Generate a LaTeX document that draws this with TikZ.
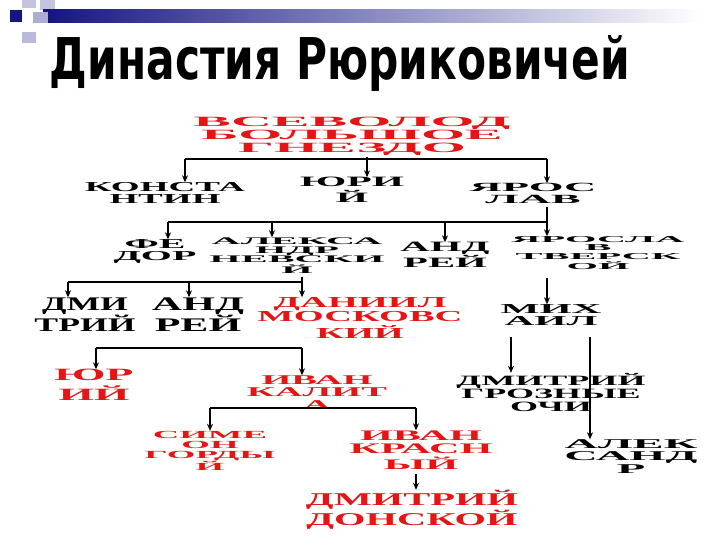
\documentclass[tikz,border=0pt]{standalone}
\usepackage{fontspec}
\setmainfont{Liberation Serif}
\newfontfamily\ttlfont{DejaVu Sans}
\usetikzlibrary{arrows.meta}
\definecolor{rred}{RGB}{230,20,20}
\definecolor{bbar}{RGB}{20,20,130}
\renewcommand{\arraystretch}{0.72}
\newcommand{\nd}[7]{\node[inner sep=0pt,text=#6] (#1) at (#2,#3)
  {\resizebox*{#4pt}{#5pt}{\bfseries\begin{tabular}{@{}c@{}}#7\end{tabular}}};}
\tikzset{arr/.style={draw=black,line width=1.2pt,-{Stealth[length=7pt,width=6pt]}},
  ln/.style={draw=black,line width=1.2pt}}
\begin{document}
\begin{tikzpicture}[x=1pt,y=-1pt]
\useasboundingbox (0,0) rectangle (720,540);
\fill[white] (0,0) rectangle (720,540);
% decoration
\fill[bbar!25] (40,0) rectangle (55,10);
\fill[bbar!25] (22,0) rectangle (36,8);
\fill[bbar!30] (22,32) rectangle (36,43);
\shade[left color=bbar,right color=white] (43,10) rectangle (700,23);
\fill[bbar!35] (33,12) rectangle (48,23);
\fill[bbar] (10,10) rectangle (22,22);
% title
\node[inner sep=0pt] (title) at (340,63) {\resizebox{580pt}{44pt}{\ttlfont\bfseries Династия Рюриковичей}};
% nodes
\nd{vs}{352}{137}{317}{39}{rred}{ВСЕВОЛОД\\БОЛЬШОЕ\\ГНЕЗДО}
\nd{kon}{165}{195}{160}{25}{black}{КОНСТА\\НТИН}
\nd{yur}{352}{192}{104}{29}{black}{ЮРИ\\Й}
\nd{yar}{533}{195}{127}{23}{black}{ЯРОС\\ЛАВ}
\nd{fed}{155}{252}{83}{25}{black}{ФЕ\\ДОР}
\nd{alx}{297}{257}{175}{39}{black}{АЛЕКСА\\НДР\\НЕВСКИ\\Й}
\nd{and}{445}{257}{89}{29}{black}{АНД\\РЕЙ}
\nd{yrt}{598}{254}{173}{35}{black}{ЯРОСЛА\\В\\ТВЕРСК\\ОЙ}
\nd{dmi}{85}{317}{101}{39}{black}{ДМИ\\ТРИЙ}
\nd{anr}{198}{317}{92}{39}{black}{АНД\\РЕЙ}
\nd{dan}{360}{320}{205}{45}{rred}{ДАНИИЛ\\МОСКОВС\\КИЙ}
\nd{mih}{551}{317}{101}{25}{black}{МИХ\\АИЛ}
\nd{yuri}{94}{387}{79}{35}{rred}{ЮР\\ИЙ}
\nd{kal}{317}{394}{140}{37}{rred}{ИВАН\\КАЛИТ\\А}
\nd{dgr}{551}{394}{189}{42}{black}{ДМИТРИЙ\\ГРОЗНЫЕ\\ОЧИ}
\nd{sim}{210}{452}{131}{42}{rred}{СИМЕ\\ОН\\ГОРДЫ\\Й}
\nd{kra}{421}{452}{143}{43}{rred}{ИВАН\\КРАСН\\ЫЙ}
\nd{als}{631}{458}{133}{37}{black}{АЛЕК\\САНД\\Р}
\nd{don}{412}{510}{212}{40}{rred}{ДМИТРИЙ\\ДОНСКОЙ}
% connectors
\coordinate (b1) at (185,159); \coordinate (b2) at (367,159); \coordinate (b3) at (547,159);
\draw[ln] (b1) -- (b3); \draw[ln] (b2) -- (vs.south -| b2);
\draw[arr] (b1) -- (b1 |- kon.north);
\draw[arr] (b2) -- (b2 |- yur.north);
\draw[arr] (b3) -- (b3 |- yar.north);
\coordinate (c0) at (547,222); \coordinate (c1) at (168,222); \coordinate (c2) at (272,222); \coordinate (c3) at (445,222);
\draw[ln] (yar.south -| c0) -- (c0) -- (c1);
\draw[arr] (c1) -- (c1 |- fed.north);
\draw[arr] (c2) -- (c2 |- alx.north);
\draw[arr] (c3) -- (c3 |- and.north);
\draw[arr] (c0) -- (c0 |- yrt.north);
\coordinate (d0) at (302,282); \coordinate (d1) at (68,282); \coordinate (d2) at (189,282);
\draw[ln] (d0 |- alx.south) -- (d0) -- (d1);
\draw[arr] (d1) -- (d1 |- dmi.north);
\draw[arr] (d2) -- (d2 |- anr.north);
\draw[arr] (d0) -- (d0 |- dan.north);
\coordinate (m0) at (547,278);
\draw[arr] (m0) -- (m0 |- mih.north);
\coordinate (e0) at (302,348); \coordinate (e1) at (96,348);
\draw[ln] (e0) -- (e1);
\draw[arr] (e1) -- (e1 |- yuri.north);
\draw[arr] (e0) -- (e0 |- kal.north);
\coordinate (f1) at (210,408); \coordinate (f2) at (416,408);
\draw[ln] (f1) -- (f2);
\draw[arr] (f1) -- (f1 |- sim.north);
\draw[arr] (f2) -- (f2 |- kra.north);
\draw[arr] (kra.south -| f2) -- (f2 |- don.north);
\coordinate (g1) at (511,337); \coordinate (g2) at (590,337);
\draw[arr] (g1) -- (g1 |- dgr.north);
\draw[arr] (g2) -- (g2 |- als.north);
\end{tikzpicture}
\end{document}
